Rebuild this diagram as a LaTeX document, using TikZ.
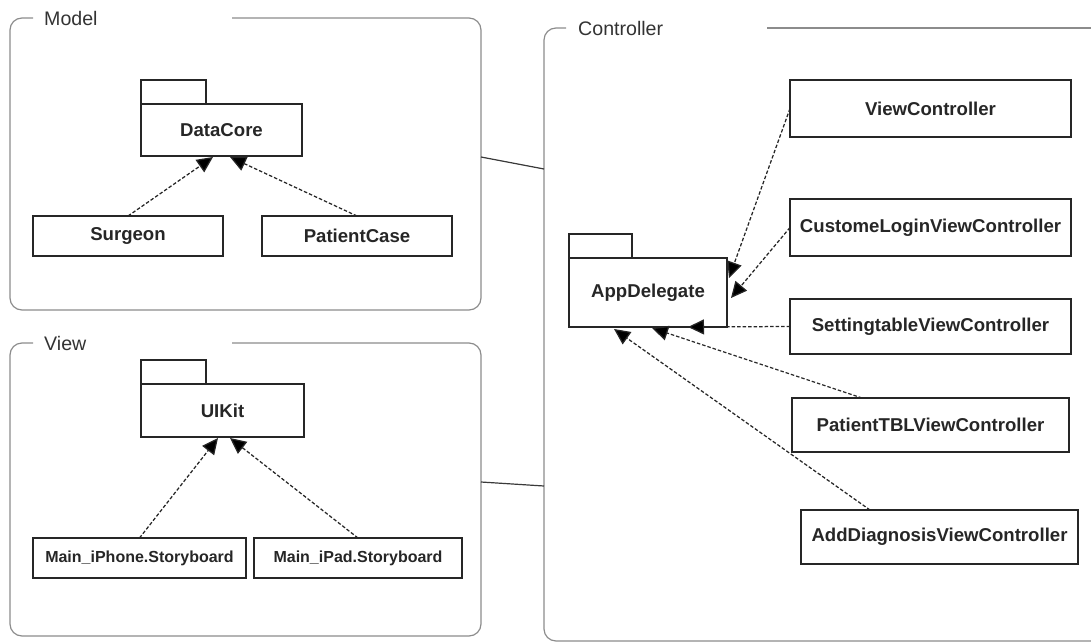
\documentclass[tikz,border=0pt]{standalone}
\usepackage{fontspec}
\setmainfont{Liberation Sans}
\usetikzlibrary{arrows.meta}
\definecolor{framegray}{HTML}{8C8C8C}
\definecolor{titlegray}{HTML}{333333}
\definecolor{linkgray}{HTML}{3A3A3A}
\tikzset{
  box/.style={draw=black!85, line width=1.3pt, inner sep=0pt, outer sep=0pt,
    font=\fontsize{18.6}{22}\selectfont\bfseries, text=black!85},
  smallbox/.style={box, font=\fontsize{16}{19}\selectfont\bfseries},
  tabbox/.style={draw=black!85, line width=1.3pt},
  frame/.style={draw=framegray, line width=1.2pt, rounded corners=12pt},
  frametitle/.style={anchor=west, inner sep=0pt, text=titlegray, font=\fontsize{19.6}{23}\selectfont},
  link/.style={draw=linkgray, line width=1.2pt},
  dep/.style={draw=black!85, line width=1.25pt, dash pattern=on 3.5pt off 2pt,
    -{Triangle[length=16pt,width=15pt,fill=black]}},
}
\begin{document}
\begin{tikzpicture}[x=1pt,y=-1pt]
\useasboundingbox (0,0) rectangle (1091,642);
\begin{scope}
\clip (0,0) rectangle (1091,642);
% frames
\draw[frame] (33,18) -- (10,18) -- (10,310) -- (481,310) -- (481,18) -- (232,18);
\draw[frame] (33,343) -- (10,343) -- (10,636) -- (481,636) -- (481,343) -- (232,343);
\draw[frame] (566,28) -- (544,28) -- (544,641) -- (1120,641);
\draw[draw=framegray, line width=1.2pt] (767,28) -- (1100,28);
\end{scope}
\node[frametitle] (tmodel) at (44,18) {Model};
\node[frametitle] (tview) at (44,343) {View};
\node[frametitle] (tctrl) at (578,28) {Controller};
\coordinate (mR) at (481,157);
\coordinate (vR) at (481,482);
\coordinate (cL1) at (544,169);
\coordinate (cL2) at (544,486);
\draw[link] (mR) -- (cL1);
\draw[link] (vR) -- (cL2);

% Model
\node[box, minimum width=161pt, minimum height=52pt] (dc) at (221.5,130) {DataCore};
\draw[tabbox] (dc.north west) rectangle ++(65,-24);
\node[box, minimum width=190pt, minimum height=40pt] (sur) at (128,236) {Surgeon};
\node[box, minimum width=190pt, minimum height=40pt] (pc) at (357,236) {PatientCase};
\coordinate (dc1) at (213,157);
\coordinate (dc2) at (230,157);
\draw[dep] (sur.north) -- (dc1);
\draw[dep] (pc.north) -- (dc2);

% View
\node[box, minimum width=163pt, minimum height=53pt] (ui) at (222.5,410.5) {UIKit};
\draw[tabbox] (ui.north west) rectangle ++(65,-24);
\node[smallbox, minimum width=213pt, minimum height=40pt] (iph) at (139.5,558) {Main\_iPhone.Storyboard};
\node[smallbox, minimum width=208pt, minimum height=40pt] (ipd) at (358,558) {Main\_iPad.Storyboard};
\coordinate (ui1) at (218,438);
\coordinate (ui2) at (230,438);
\draw[dep] (iph.north) -- (ui1);
\draw[dep] (ipd.north) -- (ui2);

% Controller
\node[box, minimum width=158pt, minimum height=69pt] (app) at (648,292.5) {AppDelegate};
\draw[tabbox] (app.north west) rectangle ++(63,-24);
\node[box, minimum width=281pt, minimum height=57pt] (vc) at (930.5,108.5) {ViewController};
\node[box, minimum width=281pt, minimum height=57pt] (clv) at (930.5,227.5) {CustomeLoginViewController};
\node[box, minimum width=281pt, minimum height=55pt] (stv) at (930.5,326.5) {SettingtableViewController};
\node[box, minimum width=277pt, minimum height=54pt] (ptv) at (930.5,425) {PatientTBLViewController};
\node[box, minimum width=277pt, minimum height=54pt] (adv) at (939.5,537) {AddDiagnosisViewController};
\coordinate (a1) at (729,278);
\coordinate (a2) at (731,298);
\coordinate (a3) at (688,327);
\coordinate (a4) at (652,328);
\coordinate (a5) at (614,329);
\coordinate (ptvs) at (862,398);
\coordinate (advs) at (870,510);
\draw[dep] (vc.west) -- (a1);
\draw[dep] (clv.west) -- (a2);
\draw[dep] (stv.west) -- (a3);
\draw[dep] (ptvs) -- (a4);
\draw[dep] (advs) -- (a5);
\end{tikzpicture}
\end{document}
